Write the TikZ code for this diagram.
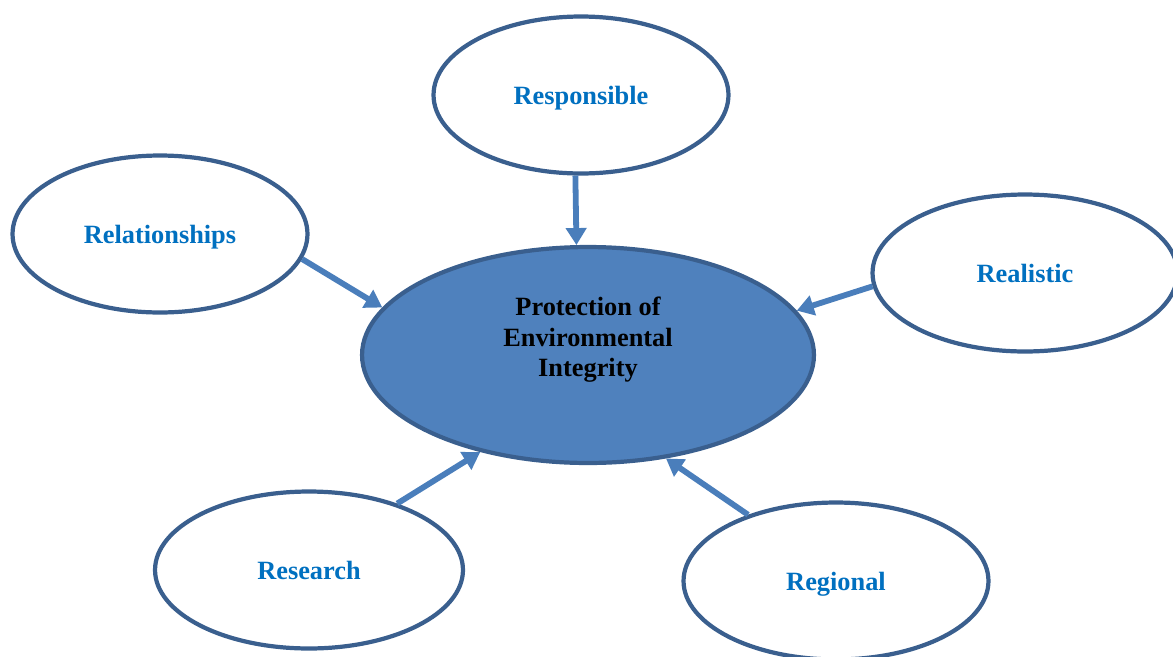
\documentclass[tikz,border=0pt]{standalone}
\usepackage{fontspec}
\setmainfont{Liberation Serif}
\usepackage{tikz}
\usetikzlibrary{arrows.meta,shapes.geometric}
\definecolor{rimblue}{HTML}{3A5F8E}
\definecolor{fillblue}{HTML}{4F81BD}
\definecolor{arrblue}{HTML}{4A7EBB}
\definecolor{txtblue}{HTML}{0070C0}
\tikzset{leaf/.style={ellipse,draw=rimblue,line width=2.4pt,fill=white,minimum height=3.14cm,inner sep=0pt,text depth=0pt,text=txtblue},
  hub/.style={ellipse,draw=rimblue,line width=2.4pt,fill=fillblue,minimum width=9.04cm,minimum height=4.32cm},
  feed/.style={draw=arrblue,line width=3.3pt,-{Triangle[length=3.4mm,width=4mm]}}}

\begin{document}
\begin{tikzpicture}[x=0.02cm,y=-0.02cm,line join=round,font=\fontsize{15}{17.4}\selectfont\bfseries]
\clip (0,0) rectangle (1173,656);
% --- centre
\node[hub] (prot) at (588,355) {};
\node[align=center] (protlbl) at (588,340) {Protection of\\Environmental\\Integrity};
% --- outer ring
\node[leaf,minimum width=5.9cm] (resp) at (581,95) {Responsible};
\node[leaf,minimum width=5.9cm] (rel) at (160,234) {Relationships};
\node[leaf,minimum width=6.1cm] (real) at (1025,273) {Realistic};
\node[leaf,minimum width=6.16cm] (res) at (309,570) {Research};
\node[leaf,minimum width=6.1cm] (reg) at (836,581) {Regional};
% --- arrows into the centre
\draw[feed] (resp.-94) -- (prot.96.6);
\draw[feed] (rel.-10) -- (prot.167);
\draw[feed] (real.-175.5) -- (prot.12.5);
\draw[feed] (res.37) -- (prot.-138);
\draw[feed] (reg.143.6) -- (prot.-53);
\end{tikzpicture}
\end{document}
